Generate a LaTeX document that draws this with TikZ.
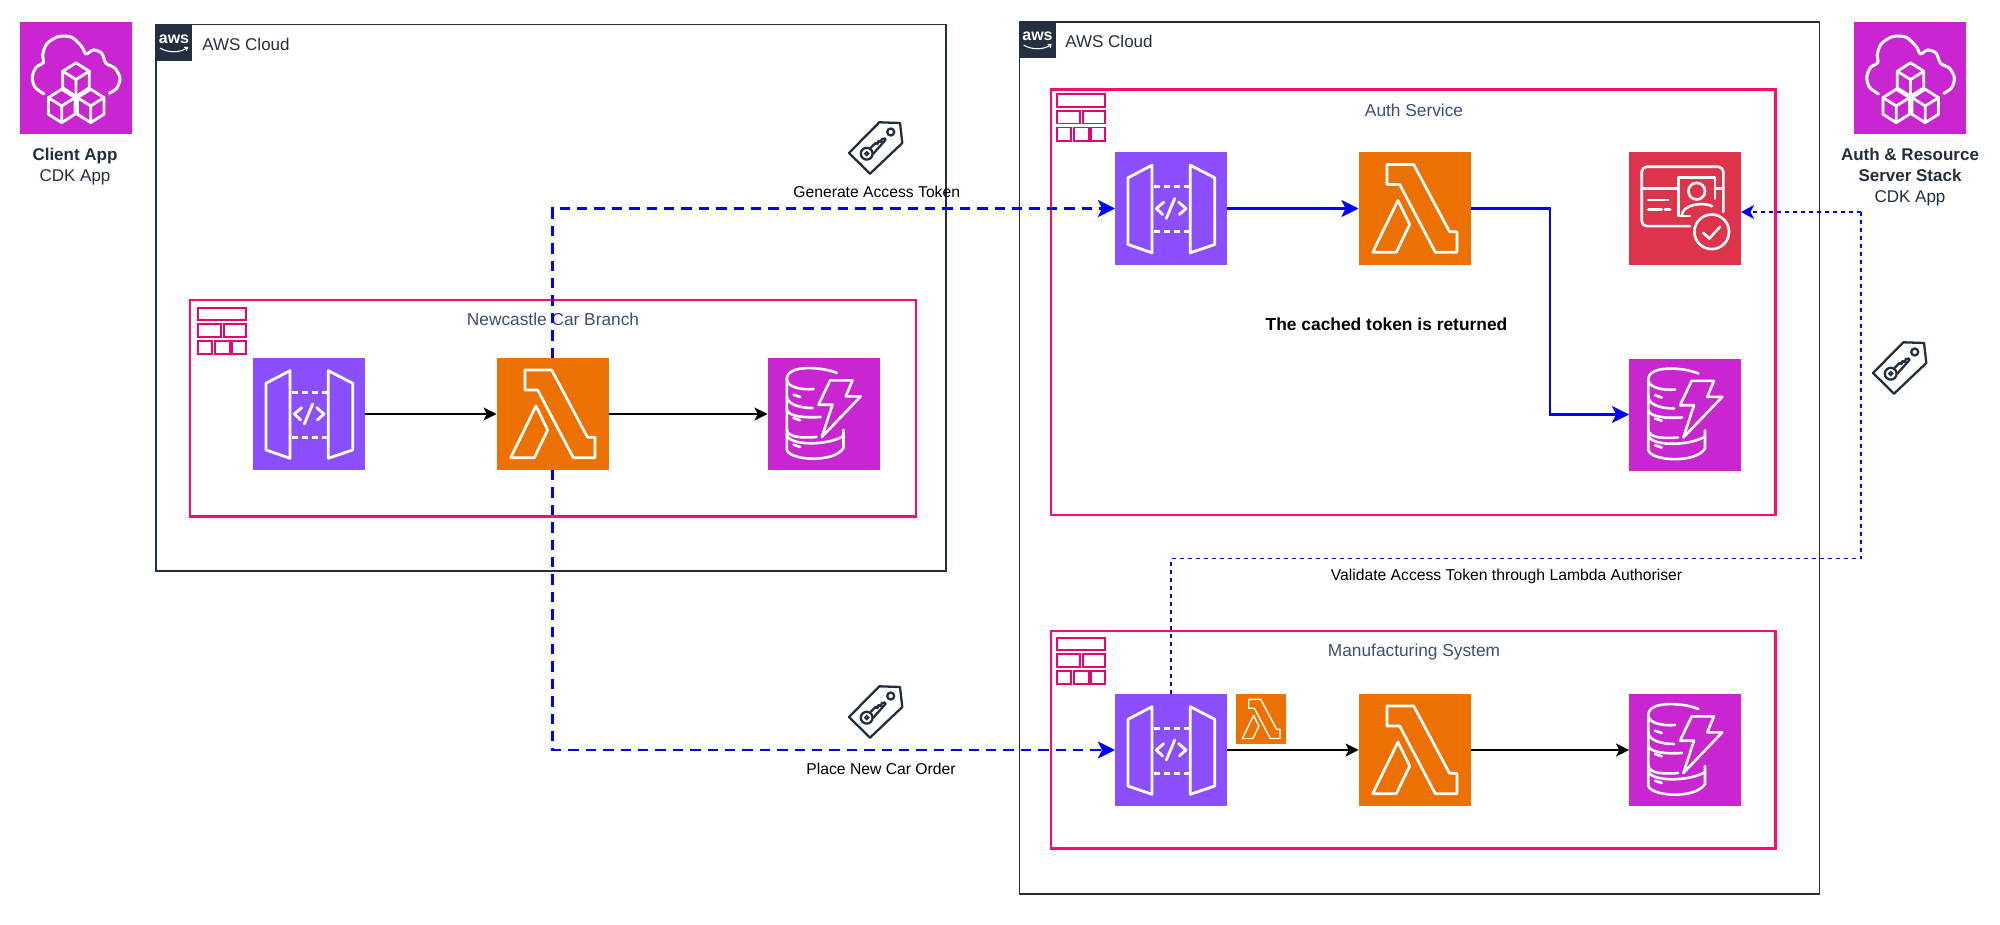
\documentclass[tikz,border=0pt]{standalone}
\usepackage{fontspec}
\setmainfont{Liberation Sans}
\usepackage{xcolor}
\usepackage{tikz}
\usetikzlibrary{arrows.meta}
\usetikzlibrary{positioning}
\definecolor{awsdark}{HTML}{232F3E}
\definecolor{apicol}{HTML}{8C4FFF}
\definecolor{lamcol}{HTML}{ED7100}
\definecolor{dbcol}{HTML}{C925D1}
\definecolor{cogcol}{HTML}{DD344C}
\definecolor{grpcol}{HTML}{FF0A6E}
\definecolor{netcol}{HTML}{E7046F}
\definecolor{ttlcol}{HTML}{3B4F70}
\tikzstyle{icon}=[rectangle,inner sep=0,outer sep=0,minimum size=56pt]
\tikzstyle{cloudbox}=[draw=awsdark,rectangle,line width=0.75pt,inner sep=0,outer sep=0]
\tikzstyle{groupbox}=[draw=grpcol,rectangle,line width=1.3pt,inner sep=0,outer sep=0]
\tikzstyle{awstag}=[fill=awsdark,rectangle,inner sep=0,outer sep=0,minimum size=18pt]
\tikzstyle{txt}=[inner sep=0,text=black,font=\fontsize{7.85pt}{10pt}\selectfont]
\tikzstyle{ttl}=[inner sep=0,text=ttlcol,font=\fontsize{8.65pt}{11pt}\selectfont]
\tikzstyle{cld}=[inner sep=0,anchor=west,text=awsdark,font=\fontsize{8.5pt}{11pt}\selectfont]
\tikzstyle{applab}=[inner sep=0,align=center,text=awsdark,font=\fontsize{8.5pt}{10.5pt}\selectfont]
\tikzstyle{glyph}=[draw=white,line join=round,line cap=round]
\tikzstyle{callC}=[>={Stealth[length=6.5pt,width=6.5pt,inset=1.6pt]},draw,line width=0.65pt,black]
\tikzstyle{callB}=[>={Stealth[length=8.5pt,width=8.5pt,inset=2pt]},draw,line width=1.4pt,blue]
\tikzstyle{callD}=[callB,dash pattern=on 5.2pt off 3.5pt]
\tikzstyle{callV}=[>={Stealth[length=6.5pt,width=7pt,inset=1.8pt]},draw,line width=0.7pt,blue,dash pattern=on 2.2pt off 1.8pt]
\tikzset{
  lambda/.pic={
    \draw[glyph,line width=#1] (-27.5,-44) -- (-0.8,-44) -- (35,23.3) -- (42.5,23.3) -- (42.5,43.7)
      -- (20.8,43.7) -- (-14.8,-24) -- (-27.5,-24) -- cycle;
    \draw[glyph,line width=#1] (-16.5,-8) -- (-4.8,16) -- (-18.2,43.7) -- (-41.8,43.7) -- cycle;
  },
  apigw/.pic={
    \draw[glyph,line width=1.4pt] (-43,-30.7) -- (-19,-43.3) -- (-19,44.3) -- (-43,36) -- cycle;
    \draw[glyph,line width=1.4pt] (19.3,-43.3) -- (43.7,-30.7) -- (43.7,36) -- (19.3,44.3) -- cycle;
    \draw[glyph,line width=1.4pt,line cap=butt,dash pattern=on 3.2pt off 1.8pt] (-17,-21.7) -- (18,-21.7);
    \draw[glyph,line width=1.4pt,line cap=butt,dash pattern=on 3.2pt off 1.8pt] (-17,23.3) -- (18,23.3);
    \draw[glyph,line width=1.4pt] (-7.3,-6.3) -- (-14.7,0) -- (-8.3,6);
    \draw[glyph,line width=1.4pt] (7.7,-6.3) -- (15,0) -- (8.3,6);
    \draw[glyph,line width=1.4pt] (3.7,-10) -- (-4.7,10);
  },
  dynamo/.pic={
    \draw[glyph,line width=1.3pt] (13.3,-41) .. controls (0,-47) and (-36.7,-50) .. (-36.7,-35)
      .. controls (-36.7,-26) and (-20,-24) .. (-10,-25);
    \draw[glyph,line width=1.3pt] (-36.7,-35) -- (-36.7,35) .. controls (-36.7,46) and (10,50) .. (20,34) -- (20,16);
    \draw[glyph,line width=1.3pt] (-36.7,-18) .. controls (-36.7,-9) and (-22,-6) .. (-11,-6);
    \draw[glyph,line width=1.3pt] (-36.7,-5) .. controls (-36.7,3) and (-16,4) .. (-3,3);
    \draw[glyph,line width=1.3pt] (-36.7,15) .. controls (-36.7,24) and (-20,24) .. (-7,23);
    \draw[glyph,line width=1.3pt] (-36.7,20) .. controls (-36.7,32) and (4,32) .. (20,22);
    \draw[glyph,line width=1.3pt,fill=dbcol] (6.7,-33.7) -- (29,-33.7) -- (22.3,-17.7) -- (37.3,-17.7) -- (-1.7,23)
      -- (9,-9.3) -- (-5,-9.3) -- cycle;
    \draw[glyph,line width=1.3pt] (-30,-19.3) -- (-23.3,-17);
    \draw[glyph,line width=1.3pt] (-30,4) -- (-23.3,6.3);
    \draw[glyph,line width=1.3pt] (-30,30.7) -- (-23.3,33);
  },
  cognito/.pic={
    \draw[glyph,line width=1.3pt,rounded corners=2.5pt] (5,17.7) -- (-43.3,17.7) -- (-43.3,-41.7) -- (38.3,-41.7) -- (38.3,3.3);
    \draw[glyph,line width=1.3pt] (-43.3,-20) -- (-6.7,-20);
    \draw[glyph,line width=1.3pt] (30,-20) -- (38.3,-20);
    \draw[glyph,line width=1.3pt] (5,7.7) -- (-6.7,7.7) -- (-6.7,-30.7) -- (30,-30.7) -- (30,-10);
    \draw[glyph,line width=1.3pt] (11.7,-17.3) circle[radius=8.3];
    \draw[glyph,line width=1.3pt] (-3.3,7.7) .. controls (-3.3,-4) and (18,-7) .. (27,-2.3);
    \draw[glyph,line width=1.3pt,fill=cogcol] (26.7,23.3) circle[radius=17.3];
    \draw[glyph,line width=1.3pt] (18.3,24.3) -- (24.3,30) -- (35,18.3);
    \draw[glyph,line width=1.3pt] (-36.7,-8.3) -- (-16.7,-8.3);
    \draw[glyph,line width=1.3pt] (-36.7,1) -- (-23.3,1);
    \draw[glyph,line width=1.3pt] (-20,1) -- (-15,1);
  },
  cdkapp/.pic={
    \draw[glyph,line width=1.5pt] plot[smooth] coordinates {(-31.5,15.7) (-40.5,9) (-43.2,-1) (-39.5,-10.7)
      (-32.2,-15.7) (-32.8,-23.3) (-28.8,-34.3) (-17.2,-41.7) (-3.8,-41) (6.2,-31.7) (10.5,-24.3)
      (17.8,-28.3) (26.2,-25) (30.5,-15) (39.5,-10) (44.5,0) (41.2,10) (33.8,15)};
    \foreach \cx/\cy in {0.5/1.3,-13.8/27.7,15.2/27.7}{
      \draw[glyph,line width=1.4pt,fill=dbcol,shift={(\cx,\cy)}] (0,-16.7) -- (13.3,-8.3) -- (13.3,8.3) -- (0,16.7)
        -- (-13.3,8.3) -- (-13.3,-8.3) -- cycle;
      \draw[glyph,line width=1.4pt,shift={(\cx,\cy)}] (-13.3,-8.3) -- (0,0) -- (13.3,-8.3) (0,0) -- (0,16.7);
    }
  },
  subnet/.pic={
    \draw[netcol,line width=0.9pt] (-24.3,-23.3) rectangle (24.3,-10.7)
      (-24.3,-6.7) rectangle (-1,6) (1.7,-6.7) rectangle (24.3,6)
      (-24.3,10) rectangle (-10,23.3) (-7.3,10) rectangle (7.7,23.3) (10,10) rectangle (24.3,23.3);
  },
  tagkey/.pic={
    \draw[awsdark,line width=1.15pt,line join=round] (4.3,-25.7) -- (25,-25) -- (27.3,-5) -- (-5,25.7) -- (-26,5) -- cycle;
    \draw[awsdark,line width=1.15pt] (15.7,-16) circle[radius=3.5];
    \draw[awsdark,line width=1.15pt] (-8.3,5.7) circle[radius=5.9];
    \draw[awsdark,line width=0.85pt] (-8.3,5.7) circle[radius=1.8];
    \draw[awsdark,line width=1.15pt,line join=round] (-4.5,0) -- (0.5,-5) -- (2.5,-4) -- (3.5,-7) -- (5.5,-6) -- (7,-9)
      -- (10,-9.5) -- (10.5,-8) -- (-2,6);
  },
  awslogo/.pic={
    \node[inner sep=0,text=white,font=\bfseries\fontsize{8pt}{8pt}\selectfont] at (0,-4) {aws};
    \draw[white,line width=0.55pt] (-14,5) .. controls (-6,10) and (6,10) .. (13,5);
    \draw[white,line width=0.5pt] (10,4.5) -- (13.5,4.5) -- (12.5,8);
  }
}
\begin{document}
\begin{tikzpicture}[x=0.5pt,y=-0.5pt]
	\useasboundingbox (0,0) rectangle (2000,925);

	% clouds
	\node[cloudbox,minimum width=395pt,minimum height=273.25pt] (clA) at (551,297.75) {};
	\node[cloudbox,minimum width=400pt,minimum height=436pt] (clB) at (1419.5,458) {};
	\node[awstag] (awA) at (174,43) {};
	\node[awstag] (awB) at (1037.5,40) {};
	\pic at (awA) {awslogo};
	\pic at (awB) {awslogo};
	\node[cld] (clAt) at (202,44) {AWS Cloud};
	\node[cld] (clBt) at (1065,41) {AWS Cloud};

	% groups
	\node[groupbox,minimum width=363pt,minimum height=108.25pt] (grN) at (553,408.25) {};
	\node[groupbox,minimum width=362.35pt,minimum height=212.85pt] (grA) at (1413.3,302.1) {};
	\node[groupbox,minimum width=362.35pt,minimum height=108.85pt] (grM) at (1413.3,739.85) {};
	\pic at (222,331) {subnet};
	\pic at (1081,117.5) {subnet};
	\pic at (1081,661) {subnet};
	\node[ttl] (grNt) at (553,319.5) {Newcastle Car Branch};
	\node[ttl] (grAt) at (1414,110) {Auth Service};
	\node[ttl] (grMt) at (1414,652) {Manufacturing System};

	% apps
	\node[icon,fill=dbcol] (apC) at (75.5,78.25) {};
	\pic at (apC) {cdkapp};
	\node[applab] (apCt) at (75,167) {\textbf{Client App}\\CDK App};
	\node[icon,fill=dbcol] (apS) at (1910,78.25) {};
	\pic at (apS) {cdkapp};
	\node[applab] (apSt) at (1910,177.5) {\textbf{Auth \& Resource}\\\textbf{Server Stack}\\CDK App};

	% services
	\node[icon,fill=apicol] (apiN) at (309,414) {};
	\node[icon,fill=lamcol] (lamN) at (552.5,414) {};
	\node[icon,fill=dbcol] (dbN) at (823.5,414) {};
	\node[icon,fill=apicol] (apiA) at (1171,208.5) {};
	\node[icon,fill=lamcol] (lamA) at (1414.5,208.5) {};
	\node[icon,fill=cogcol] (cogA) at (1685,208.5) {};
	\node[icon,fill=dbcol] (dbA) at (1685,414.5) {};
	\node[icon,fill=apicol] (apiM) at (1171,750) {};
	\node[icon,fill=lamcol,minimum size=25pt] (lamS) at (1261,719) {};
	\node[icon,fill=lamcol] (lamM) at (1414.5,750) {};
	\node[icon,fill=dbcol] (dbM) at (1685,750) {};

	\foreach \n in {apiN,apiA,apiM}{\pic at (\n) {apigw};}
	\foreach \n in {lamN,lamA,lamM}{\pic at (\n) {lambda=1.35pt};}
	\foreach \n in {dbN,dbA,dbM}{\pic at (\n) {dynamo};}
	\pic at (cogA) {cognito};
	\pic[scale=0.447] at (lamS) {lambda=0.7pt};

	% calls
	\path[callC,->] (apiN) -- (lamN);
	\path[callC,->] (lamN) -- (dbN);
	\path[callC,->] (apiM) -- (lamM);
	\path[callC,->] (lamM) -- (dbM);

	\path[callB,->] (apiA) -- (lamA);
	\coordinate (bendA) at (1550,414.5);
	\path[callB,->] (lamA) -| (bendA) -- (dbA);

	\path[callD,->] (lamN) |- (apiA);
	\path[callD,->] (lamN) |- (apiM);

	\coordinate (vtA) at (1861,558.7);
	\coordinate (vtB) at (1861,212);
	\path[callV] (apiM) |- (vtA) -- (vtB);
	\path[callV,->] (vtB) -- (cogA.east |- vtB);

	% tokens
	\pic at (875,148) {tagkey};
	\pic at (875,712) {tagkey};
	\pic at (1899,368) {tagkey};
	\node[txt] (txG) at (876.7,191.7) {Generate Access Token};
	\node[txt] (txP) at (881,769) {Place New Car Order};
	\node[txt] (txV) at (1506.5,576) {Validate Access Token through Lambda Authoriser};
	\node[txt,font=\bfseries\fontsize{8.7pt}{10pt}\selectfont] (txC) at (1386.5,324) {The cached token is returned};
\end{tikzpicture}
\end{document}
